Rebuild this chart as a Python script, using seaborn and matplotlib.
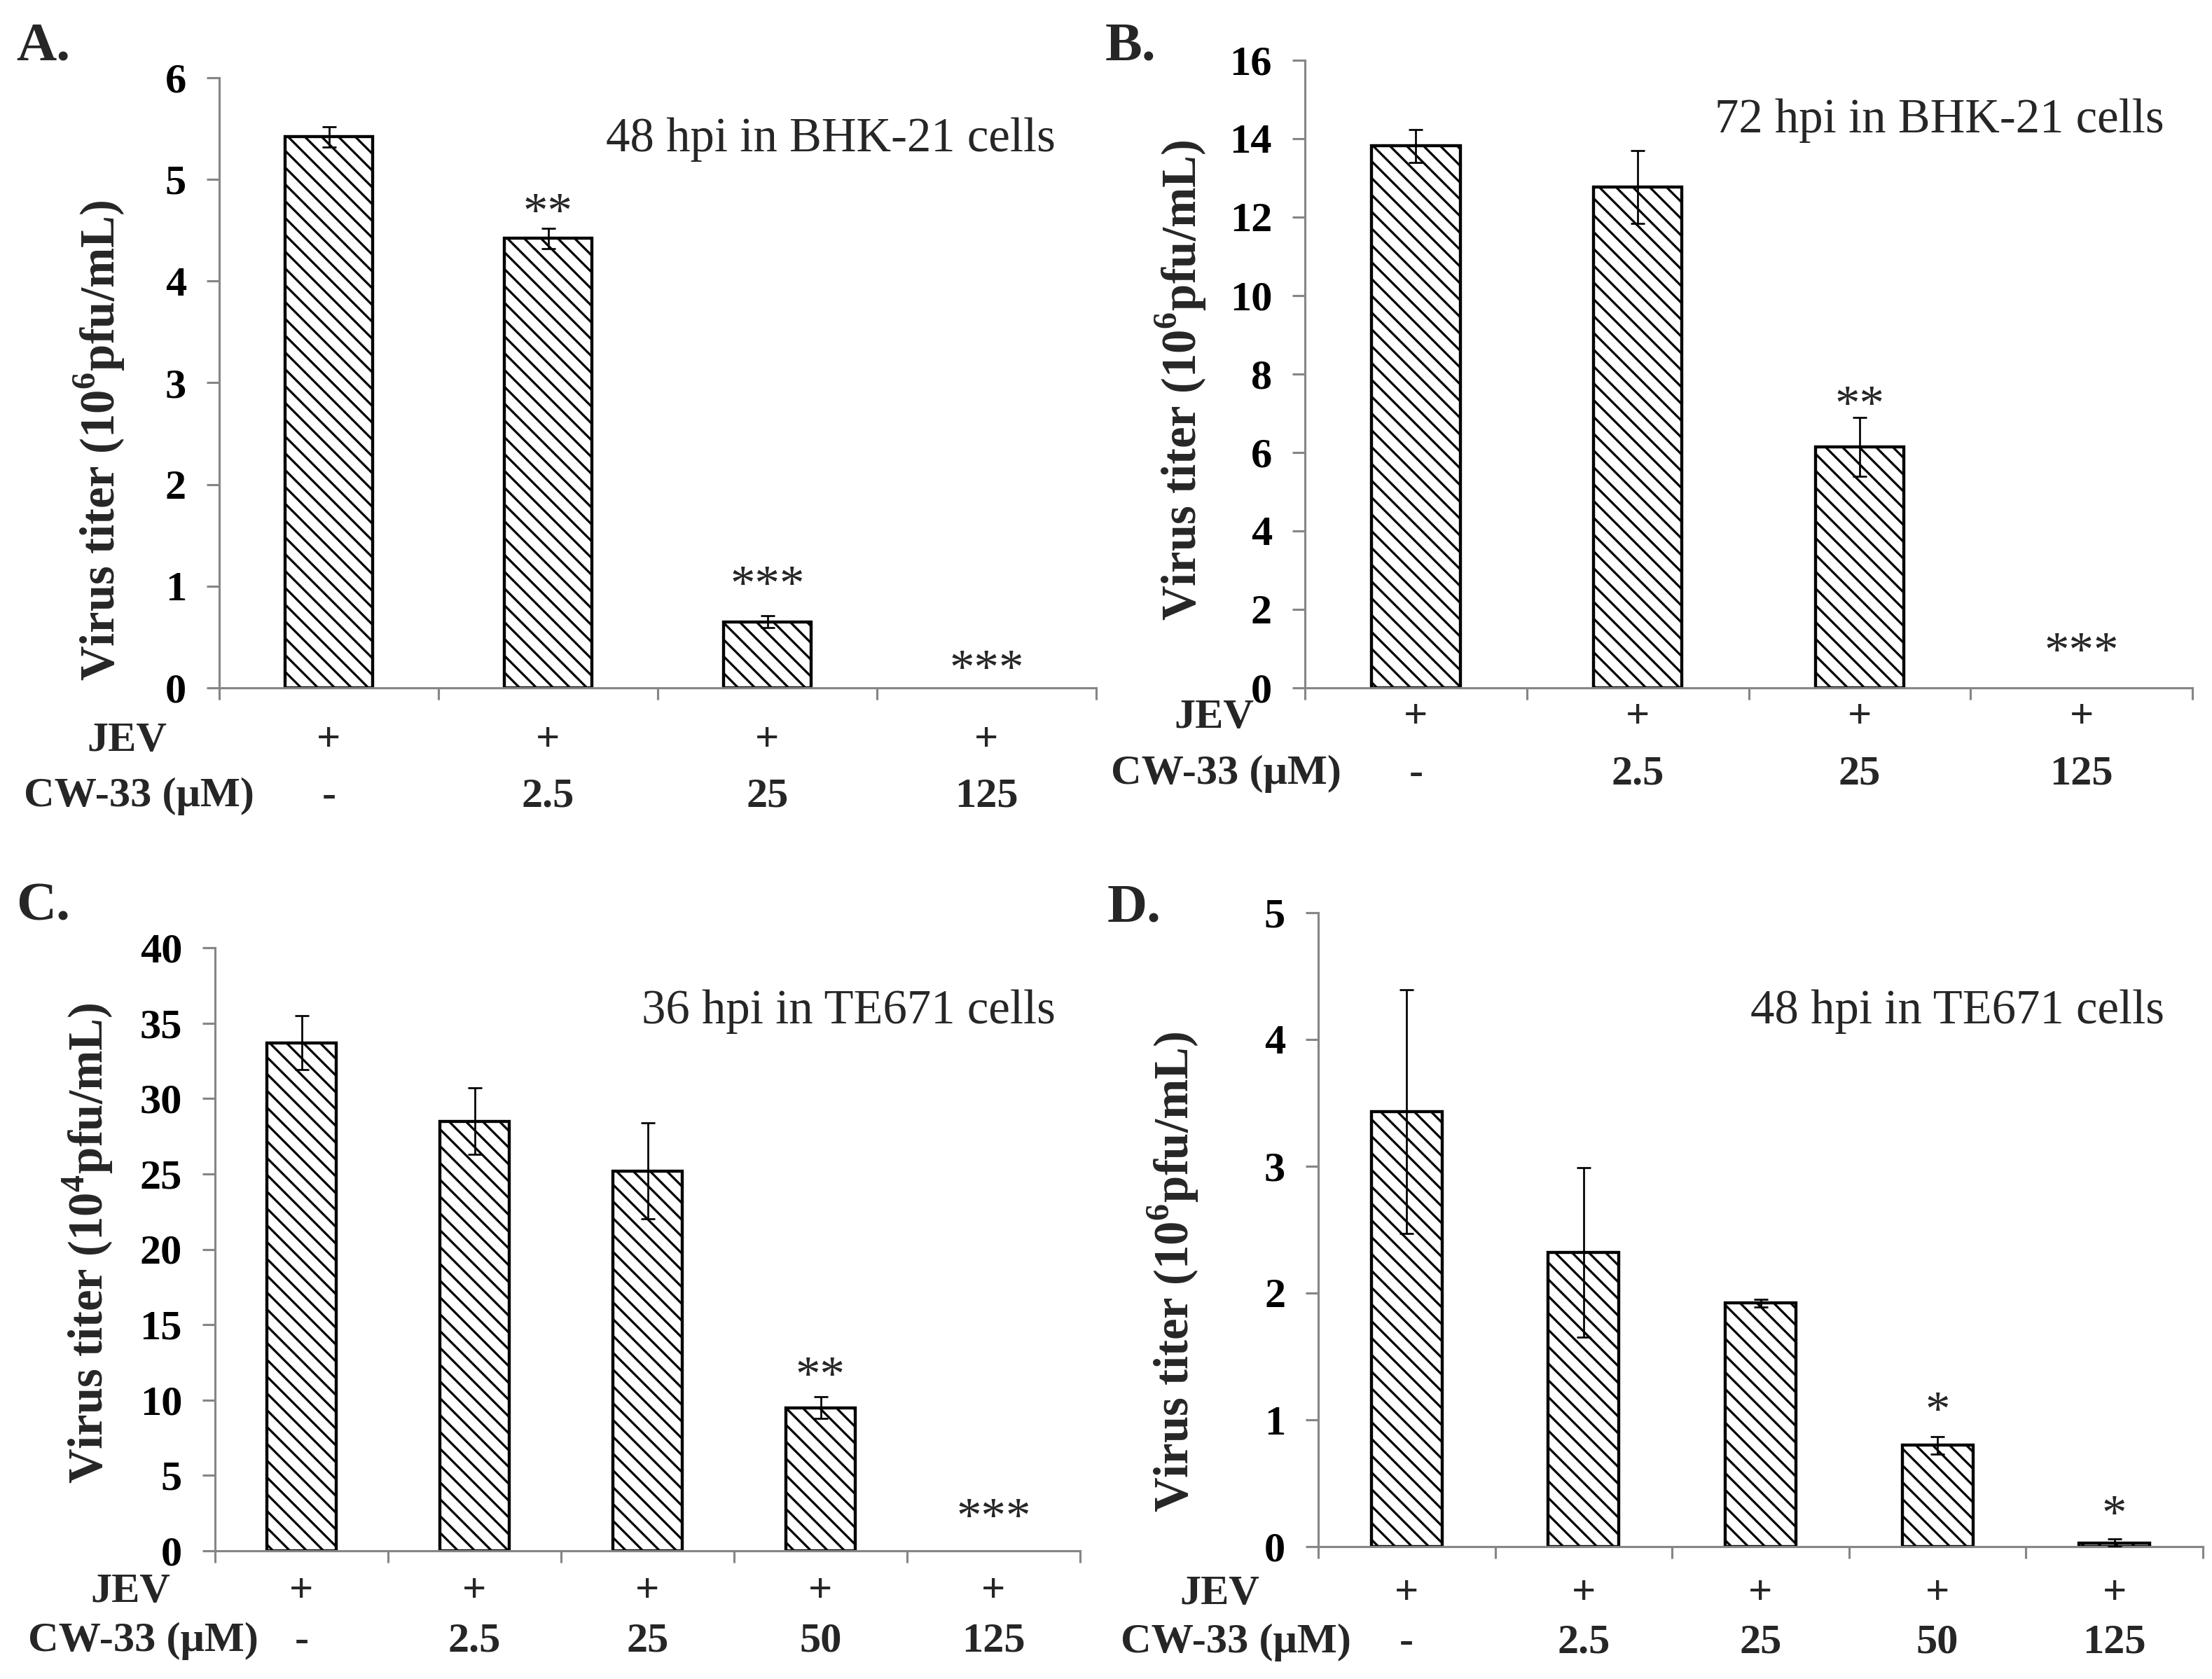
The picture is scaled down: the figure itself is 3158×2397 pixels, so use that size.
import numpy as np
import pandas as pd
import matplotlib
matplotlib.use("Agg")
import matplotlib.pyplot as plt
import seaborn as sns
from matplotlib.transforms import blended_transform_factory

# ---------------- data ----------------
doses_A = ["-", "2.5", "25", "125"]
titer_A = [5.42, 4.42, 0.65, 0.0]
err_A = [0.10, 0.10, 0.06, 0.0]
stars_A = ["", "**", "***", "***"]
stars_at_A = [0, 4.76, 1.10, 0.27]

doses_B = ["-", "2.5", "25", "125"]
titer_B = [13.82, 12.77, 6.14, 0.0]
err_B = [0.42, 0.93, 0.75, 0.0]
stars_B = ["", "", "**", "***"]
stars_at_B = [0, 0, 7.43, 1.14]

doses_C = ["-", "2.5", "25", "50", "125"]
titer_C = [33.7, 28.5, 25.2, 9.5, 0.0]
err_C = [1.8, 2.2, 3.2, 0.7, 0.0]
stars_C = ["", "", "", "**", "***"]
stars_at_C = [0, 0, 0, 12.2, 2.8]

doses_D = ["-", "2.5", "25", "50", "125"]
titer_D = [3.43, 2.32, 1.92, 0.80, 0.03]
err_D = [0.96, 0.67, 0.03, 0.07, 0.03]
stars_D = ["", "", "", "*", "*"]
stars_at_D = [0, 0, 0, 1.14, 0.32]

ylim_A, ystep_A = 6, 1
ylim_B, ystep_B = 16, 2
ylim_C, ystep_C = 40, 5
ylim_D, ystep_D = 5, 1

ylabel_6 = r"Virus titer (10$^{\mathbf{6}}$pfu/mL)"
ylabel_4 = r"Virus titer (10$^{\mathbf{4}}$pfu/mL)"
titles = ["48 hpi in BHK-21 cells", "72 hpi in BHK-21 cells",
          "36 hpi in TE671 cells", "48 hpi in TE671 cells"]
letters = ["A.", "B.", "C.", "D."]

# ---------------- style ----------------
W, H = 3158, 2397
DPI = 144
S = 150 / DPI  # sizes below were tuned as points at 150 dpi


def pt(v):
    return v * S


sns.set_style("ticks")
plt.rcParams["font.family"] = ["Liberation Serif", "DejaVu Serif"]
plt.rcParams["mathtext.fontset"] = "custom"
plt.rcParams["mathtext.rm"] = "Liberation Serif"
plt.rcParams["mathtext.bf"] = "Liberation Serif:bold"
plt.rcParams["hatch.linewidth"] = pt(1.55)
plt.rcParams["hatch.color"] = "black"

GRAY = "#868686"
fig = plt.figure(figsize=(W / DPI, H / DPI), dpi=DPI)
fig.patch.set_facecolor("white")


def px_rect(l, r, t, b):
    return [l / W, 1 - b / H, (r - l) / W, (b - t) / H]


panels = [
    dict(doses=doses_A, titer=titer_A, err=err_A, stars=stars_A, sat=stars_at_A,
         ymax=ylim_A, ystep=ystep_A, rect=px_rect(313, 1565, 111, 982), ylabel=ylabel_6,
         ylab_xy=(142, 629), title_xy=(1507, 199), letter_xy=(62, 67),
         jev_xy=(181, 1058), cw_xy=(198, 1137)),
    dict(doses=doses_B, titer=titer_B, err=err_B, stars=stars_B, sat=stars_at_B,
         ymax=ylim_B, ystep=ystep_B, rect=px_rect(1863, 3130, 86, 982), ylabel=ylabel_6,
         ylab_xy=(1686, 543), title_xy=(3090, 172), letter_xy=(1614, 67),
         jev_xy=(1733, 1025), cw_xy=(1750, 1105)),
    dict(doses=doses_C, titer=titer_C, err=err_C, stars=stars_C, sat=stars_at_C,
         ymax=ylim_C, ystep=ystep_C, rect=px_rect(307, 1542, 1353, 2214), ylabel=ylabel_4,
         ylab_xy=(125, 1775), title_xy=(1507, 1444), letter_xy=(62, 1295),
         jev_xy=(186, 2273), cw_xy=(204, 2343)),
    dict(doses=doses_D, titer=titer_D, err=err_D, stars=stars_D, sat=stars_at_D,
         ymax=ylim_D, ystep=ystep_D, rect=px_rect(1882, 3145, 1303, 2208), ylabel=ylabel_6,
         ylab_xy=(1675, 1816), title_xy=(3090, 1444), letter_xy=(1619, 1297),
         jev_xy=(1741, 2276), cw_xy=(1764, 2345)),
]

for i, p in enumerate(panels):
    ax = fig.add_axes(p["rect"])
    n = len(p["doses"])
    df = pd.DataFrame({"dose": p["doses"], "titer": p["titer"]})
    sns.barplot(data=df, x="dose", y="titer", order=p["doses"], ax=ax,
                width=0.4, color="white", edgecolor="black", linewidth=pt(2.1),
                hatch="\\\\", errorbar=None, saturation=1)
    for bar in ax.patches:
        bar.set_facecolor("white")
        bar.set_edgecolor("black")
        bar.set_hatch("\\\\")
        if bar.get_height() == 0:
            bar.set_linewidth(0)
    x = np.arange(n)
    err = np.asarray(p["err"])
    val = np.asarray(p["titer"])
    m = err > 0
    ax.errorbar(x[m], val[m], yerr=err[m], fmt="none", ecolor="black",
                elinewidth=pt(1.3), capsize=pt(5), capthick=pt(1.3), zorder=4)
    for xi, s, sy in zip(x, p["stars"], p["sat"]):
        if s:
            ax.annotate(s, (xi, sy), xytext=(0, -pt(16)), textcoords="offset points",
                        ha="center", va="baseline", fontsize=pt(34))

    ax.set_xlim(-0.5, n - 0.5)
    ax.set_ylim(0, p["ymax"])
    yt = np.arange(0, p["ymax"] + 0.001, p["ystep"])
    ax.set_yticks(yt)
    ax.set_yticklabels([f"{v:g}" for v in yt], fontweight="bold", fontsize=pt(29))
    ax.set_xticks(np.arange(n + 1) - 0.5)
    ax.set_xticklabels([])
    ax.set_xlabel("")
    ax.set_ylabel("")
    for side in ["top", "right"]:
        ax.spines[side].set_visible(False)
    for side in ["left", "bottom"]:
        ax.spines[side].set_color(GRAY)
        ax.spines[side].set_linewidth(pt(1.5))
    ax.tick_params(axis="y", left=True, direction="out", length=pt(8.5), width=pt(1.5),
                   color=GRAY, pad=pt(14), labelcolor="black")
    ax.tick_params(axis="x", bottom=True, direction="out", length=pt(8), width=pt(1.5),
                   color=GRAY)
    ax.set_facecolor("none")

    # texts
    fig.text(p["ylab_xy"][0] / W, 1 - p["ylab_xy"][1] / H, p["ylabel"], rotation=90,
             ha="center", va="center", fontsize=pt(33), fontweight="bold")
    fig.text(p["title_xy"][0] / W, 1 - p["title_xy"][1] / H, titles[i],
             ha="right", va="center", fontsize=pt(33))
    fig.text(p["letter_xy"][0] / W, 1 - p["letter_xy"][1] / H, letters[i],
             ha="center", va="center", fontsize=pt(38), fontweight="bold")
    fig.text(p["jev_xy"][0] / W, 1 - p["jev_xy"][1] / H, "JEV",
             ha="center", va="center", fontsize=pt(29), fontweight="bold")
    fig.text(p["cw_xy"][0] / W, 1 - p["cw_xy"][1] / H, "CW-33 (μM)",
             ha="center", va="center", fontsize=pt(29), fontweight="bold")
    tr = blended_transform_factory(ax.transData, fig.transFigure)
    for xi, d in zip(x, p["doses"]):
        ax.text(xi, 1 - p["jev_xy"][1] / H, "+", transform=tr, ha="center",
                va="center", fontsize=pt(29), fontweight="bold")
        ax.text(xi, 1 - p["cw_xy"][1] / H, d, transform=tr, ha="center",
                va="center", fontsize=pt(29), fontweight="bold")

fig.savefig("out.png", dpi=DPI, facecolor="white")
